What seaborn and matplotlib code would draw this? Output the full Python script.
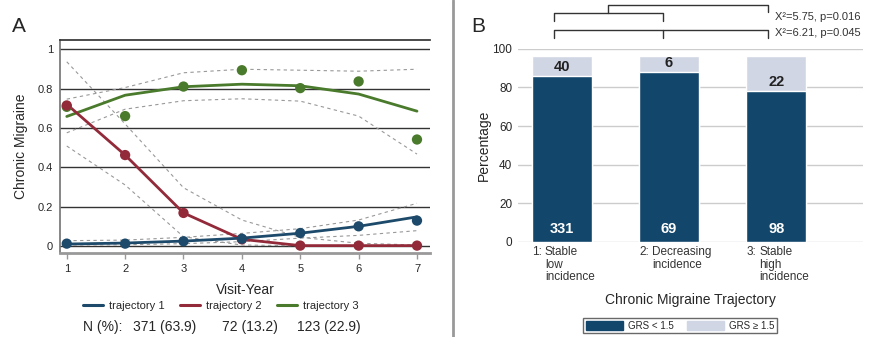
import numpy as np
import pandas as pd
import matplotlib
matplotlib.use("Agg")
import matplotlib.pyplot as plt
import seaborn as sns
from matplotlib.lines import Line2D
from matplotlib.patches import Patch

sns.set_theme(style="white")
plt.rcParams['font.family'] = ['Liberation Sans', 'DejaVu Sans']
narrow = ['Liberation Sans Narrow', 'Liberation Sans', 'DejaVu Sans']

# ---- panel A data ----
years = [1, 2, 3, 4, 5, 6, 7]
t1_fit = [0.010, 0.015, 0.025, 0.040, 0.065, 0.100, 0.148]
t1_obs = [0.012, 0.012, 0.024, 0.037, 0.066, 0.100, 0.129]
t1_hi = [0.027, 0.030, 0.044, 0.064, 0.088, 0.132, 0.217]
t1_lo = [0.005, 0.006, 0.012, 0.022, 0.040, 0.054, 0.078]
t2_fit = [0.720, 0.462, 0.168, 0.034, 0.002, 0.002, 0.002]
t2_obs = [0.714, 0.462, 0.168, 0.034, 0.002, 0.002, 0.002]
t2_hi = [0.936, 0.620, 0.296, 0.132, 0.044, 0.014, 0.005]
t2_lo = [0.508, 0.310, 0.047, 0.005, 0.001, 0.001, 0.001]
t3_fit = [0.658, 0.766, 0.809, 0.822, 0.814, 0.772, 0.685]
t3_obs = [0.707, 0.660, 0.810, 0.893, 0.802, 0.836, 0.541]
t3_hi = [0.746, 0.805, 0.880, 0.898, 0.893, 0.888, 0.898]
t3_lo = [0.575, 0.695, 0.738, 0.748, 0.736, 0.660, 0.467]
traj_names = ["trajectory 1", "trajectory 2", "trajectory 3"]
traj_n = ["371 (63.9)", "72 (13.2)", "123 (22.9)"]
traj_colors = ["#1d4a6a", "#922a3a", "#4a7a2c"]

# ---- panel B data ----
groups = ["1: Stable\nlow\nincidence", "2: Decreasing\nincidence", "3: Stable\nhigh\nincidence"]
pct_low = [86.0, 88.2, 78.4]
pct_high = [10.4, 8.2, 18.0]
n_low = [331, 69, 98]
n_high = [40, 6, 22]
stats = ["X\u00b2=5.75, p=0.016", "X\u00b2=6.21, p=0.045"]
dark = "#12466b"
light = "#d0d6e4"

fig = plt.figure(figsize=(8.79, 3.37), dpi=100)
axA = fig.add_axes([0.0683, 0.249, 0.4207, 0.632])
axB = fig.add_axes([0.589, 0.282, 0.393, 0.573])

# ---- panel A ----
fits = [t1_fit, t2_fit, t3_fit]
obss = [t1_obs, t2_obs, t3_obs]
his = [t1_hi, t2_hi, t3_hi]
los = [t1_lo, t2_lo, t3_lo]
for y in [0, 0.2, 0.4, 0.6, 0.8, 1.0]:
    axA.axhline(y, color="#333333", lw=1.0, zorder=0)
for i in range(3):
    sns.lineplot(x=years, y=his[i], ax=axA, color="#999999", lw=0.8, ls=(0, (3, 3)), zorder=1)
    sns.lineplot(x=years, y=los[i], ax=axA, color="#999999", lw=0.8, ls=(0, (3, 3)), zorder=1)
for i in [2, 1, 0]:
    sns.lineplot(x=years, y=fits[i], ax=axA, color=traj_colors[i], lw=2.0, zorder=3)
    sns.scatterplot(x=years, y=obss[i], ax=axA, color=traj_colors[i], s=55, edgecolor="none", zorder=4)
axA.set_xlim(0.885, 7.22)
axA.set_ylim(-0.036, 1.046)
axA.set_xticks(years)
axA.set_yticks([0, 0.2, 0.4, 0.6, 0.8, 1.0])
axA.set_yticklabels(["0", "0.2", "0.4", "0.6", "0.8", "1"])
axA.tick_params(axis="x", bottom=True, length=4, width=1, color="#999999", labelsize=8, pad=4)
axA.tick_params(axis="y", left=False, length=0, labelsize=8, pad=5)
axA.spines["right"].set_visible(False)
axA.spines["top"].set_color("#333333")
axA.spines["left"].set_color("#777777")
axA.spines["bottom"].set_color("#999999")
axA.spines["bottom"].set_linewidth(2)
axA.set_xlabel("Visit-Year", fontsize=10, labelpad=6)
axA.set_ylabel("Chronic Migraine", fontsize=10, labelpad=7)
fig.text(0.014, 0.905, "A", fontsize=15)
handles = [Line2D([0], [0], color=c, lw=2.2) for c in traj_colors]
fig.legend(handles, traj_names, loc="center", bbox_to_anchor=(0.2514, 0.092), ncol=3,
           frameon=False, fontsize=8, handlelength=1.8, handletextpad=0.55, columnspacing=1.35)
fig.text(0.0944, 0.03, "N (%):", fontsize=10, ha="left", va="center")
for xpos, t in zip([0.1877, 0.2838, 0.3743], traj_n):
    fig.text(xpos, 0.03, t, fontsize=10, ha="center", va="center")

# ---- panel B ----
dfB = pd.DataFrame({"group": groups, "low": pct_low, "total": np.add(pct_low, pct_high)})
for y in [0, 20, 40, 60, 80, 100]:
    axB.axhline(y, color="#cccccc", lw=1.0, zorder=0)
sns.barplot(data=dfB, x="group", y="total", color=light, width=0.56, ax=axB, zorder=2, saturation=1)
sns.barplot(data=dfB, x="group", y="low", color=dark, width=0.56, ax=axB, zorder=3, saturation=1)
axB.set_xlim(-0.41, 2.81)
axB.set_ylim(0, 100)
axB.set_yticks([0, 20, 40, 60, 80, 100])
axB.tick_params(axis="y", left=False, length=0, labelsize=8.5, pad=4)
axB.set_xticks([0, 1, 2])
axB.set_xticklabels([""] * 3)
axB.tick_params(axis="x", bottom=False)
for s in axB.spines.values():
    s.set_visible(False)
axB.set_ylabel("Percentage", fontsize=10, labelpad=1)
axB.set_xlabel("Chronic Migraine Trajectory", fontsize=10, labelpad=27)
for i in range(3):
    axB.text(i, 3, str(n_low[i]), ha="center", va="bottom", color="white", fontsize=10.5,
             fontweight="bold", family=narrow, zorder=5)
    axB.text(i, pct_low[i] + 1.0, str(n_high[i]), ha="center", va="bottom",
             color="#222222", fontsize=10.5, fontweight="bold", family=narrow, zorder=5)
    num, rest = groups[i].split(": ")
    axB.text(i - 0.28, -2.3, num + ":", ha="left", va="top", fontsize=8.5, color="#333333")
    axB.text(i - 0.158, -2.3, rest, ha="left", va="top", fontsize=8.5, color="#333333", linespacing=1.05)
fig.legend([Patch(color=dark), Patch(color=light)], ["GRS < 1.5", "GRS \u2265 1.5"],
           loc="center", bbox_to_anchor=(0.7736, 0.034), ncol=2, fontsize=7,
           frameon=True, fancybox=False, edgecolor="#444444", handlelength=3.8, handleheight=1.0,
           handletextpad=0.5, columnspacing=1.4, borderpad=0.3, borderaxespad=0)
fig.text(0.536, 0.905, "B", fontsize=15)

# brackets
bx = [-0.075, 0.944, 1.925]
kw = dict(color="#333333", lw=1.0, clip_on=False)
axB.plot([bx[0], bx[0], bx[2], bx[2]], [105.7, 109.8, 109.8, 105.7], **kw)
axB.plot([bx[1], bx[1]], [105.7, 109.8], **kw)
axB.plot([bx[0], bx[0], bx[1], bx[1]], [114.5, 118.5, 118.5, 114.5], **kw)
mid = (bx[0] + bx[1]) / 2
axB.plot([mid, mid, bx[2], bx[2]], [118.5, 122.6, 122.6, 119.0], **kw)
axB.text(bx[2] + 0.06, 116.5, stats[0], ha="left", va="center", fontsize=8, color="#333333")
axB.text(bx[2] + 0.06, 108.3, stats[1], ha="left", va="center", fontsize=8, color="#333333")

# separator
fig.add_artist(Line2D([0.515, 0.515], [0, 1], color="#999999", lw=2, transform=fig.transFigure))

fig.savefig("out.png", dpi=100)
